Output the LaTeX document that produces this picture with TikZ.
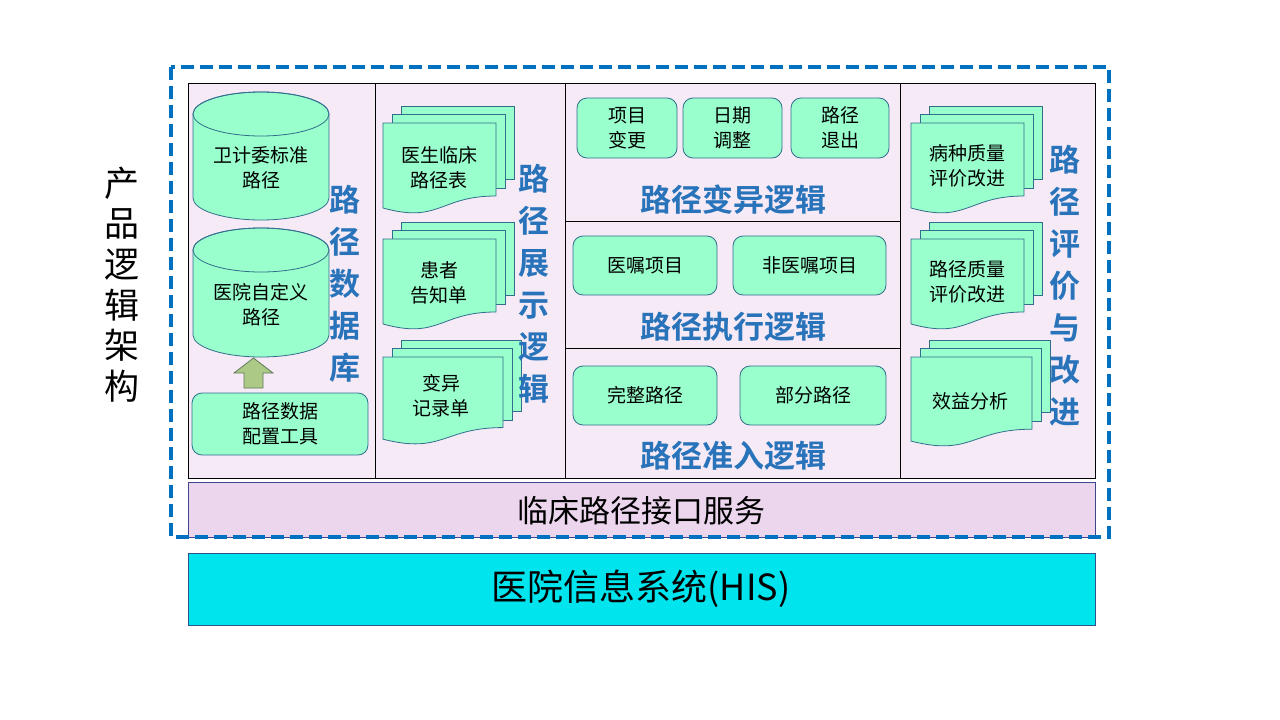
\documentclass[tikz,border=0pt]{standalone}
\usepackage{fontspec}
\setmainfont{Noto Sans CJK SC}[BoldFont={Noto Sans CJK SC Bold}]
\definecolor{bgpink}{RGB}{246,234,247}
\definecolor{mint}{RGB}{153,255,204}
\definecolor{mintedge}{RGB}{50,110,140}
\definecolor{lblue}{RGB}{40,115,185}
\definecolor{dblue}{RGB}{0,112,192}
\definecolor{ifpink}{RGB}{236,214,238}
\definecolor{ifedge}{RGB}{60,70,140}
\definecolor{hiscyan}{RGB}{0,228,238}
\definecolor{hisedge}{RGB}{47,82,143}
\definecolor{arrgreen}{RGB}{172,202,134}
\definecolor{arredge}{RGB}{95,120,90}
% multi-document: #1 left, #2 top, #3 width, #4 height
\newcommand\mdocshape[4]{%
  \filldraw[docpage] ({#1+18},{#2-17}) rectangle ({#1+18+#3},{#2+0.62*#4});
  \filldraw[docpage] ({#1+9},{#2-8.5}) rectangle ({#1+9+#3},{#2+0.72*#4});
  \filldraw[docpage] (#1,#2) -- ({#1+#3},#2) -- ({#1+#3},{#2+0.802*#4})
    .. controls ({#1+0.5*#3},{#2+0.802*#4}) and ({#1+0.5*#3},{#2+1.107*#4}) .. (#1,{#2+0.934*#4}) -- cycle;
}
\newcommand\cylshape[2]{% #1 top ellipse centre y, #2 bottom centre y
  \filldraw[docpage] (193,#1) -- (193,#2) arc[start angle=180,end angle=360,x radius=68pt,y radius=22pt]
    -- (329,#1) arc[start angle=0,end angle=180,x radius=68pt,y radius=22pt] -- cycle;
  \draw[mintedge,line width=0.8pt] (261,#1) ellipse[x radius=68pt,y radius=22pt];
}
\begin{document}
\begin{tikzpicture}[x=1pt,y=-1pt,
  docpage/.style={fill=mint,draw=mintedge,line width=0.8pt},
  rbox/.style={draw=mintedge,fill=mint,line width=0.8pt,rounded corners=10pt,align=center,inner sep=0pt,font=\fontsize{19}{25}\selectfont},
  boxtext/.style={align=center,inner sep=0pt,font=\fontsize{19}{25}\selectfont},
  vlabel/.style={text=lblue,align=center,inner sep=0pt,font=\fontsize{31}{42}\selectfont\bfseries},
  rowlabel/.style={text=lblue,inner sep=0pt,font=\fontsize{31}{36}\selectfont\bfseries},
  frameline/.style={draw=black,line width=0.8pt}]
\useasboundingbox[fill=white] (0,0) rectangle (1280,720);

% left title
\node[align=center,inner sep=0pt,font=\fontsize{35}{40.6}\selectfont] (title) at (122,284.5) {产\\品\\逻\\辑\\架\\构};

% main frame
\filldraw[frameline,fill=bgpink] (188,83) rectangle (1095,478);
\draw[frameline] (375,83) -- (375,478);
\draw[frameline] (565,83) -- (565,478);
\draw[frameline] (900,83) -- (900,478);
\draw[frameline] (565,221) -- (900,221);
\draw[frameline] (565,348) -- (900,348);

% column 1
\cylshape{114}{198}
\cylshape{250}{335}
\node[boxtext] (cyl1) at (261,167.5) {卫计委标准\\路径};
\node[boxtext] (cyl2) at (261,305) {医院自定义\\路径};
\filldraw[fill=arrgreen,draw=arredge,line width=0.8pt] (244,388) -- (244,373) -- (234,373) -- (253.5,358) -- (273,373) -- (263,373) -- (263,388) -- cycle;
\node[rbox,minimum width=176pt,minimum height=62pt] (cfg) at (280,424) {路径数据\\配置工具};
\node[vlabel] (lab1) at (345,283.5) {路\\径\\数\\据\\库};

% column 2
\mdocshape{383}{123}{113}{91}
\mdocshape{383}{239}{113}{91}
\mdocshape{383}{357}{120}{88}
\node[boxtext] (d1) at (439,168) {医生临床\\路径表};
\node[boxtext] (d2) at (439,283) {患者\\告知单};
\node[boxtext] (d3) at (441,396) {变异\\记录单};
\node[vlabel] (lab2) at (534,284) {路\\径\\展\\示\\逻\\辑};

% column 3
\node[rbox,minimum width=100pt,minimum height=60pt] (v1) at (627,128) {项目\\变更};
\node[rbox,minimum width=99pt,minimum height=60pt] (v2) at (732.5,128) {日期\\调整};
\node[rbox,minimum width=98pt,minimum height=60pt] (v3) at (840,128) {路径\\退出};
\node[rowlabel] (r1) at (733,200) {路径变异逻辑};
\node[rbox,minimum width=144pt,minimum height=59pt] (e1) at (645,265.5) {医嘱项目};
\node[rbox,minimum width=153pt,minimum height=59pt] (e2) at (809.5,265.5) {非医嘱项目};
\node[rowlabel] (r2) at (733,327) {路径执行逻辑};
\node[rbox,minimum width=144pt,minimum height=59pt] (a1) at (645,395.5) {完整路径};
\node[rbox,minimum width=146pt,minimum height=59pt] (a2) at (813,395.5) {部分路径};
\node[rowlabel] (r3) at (733,456) {路径准入逻辑};

% column 4
\mdocshape{911}{123}{113}{91}
\mdocshape{911}{239}{113}{91}
\mdocshape{911}{357}{121}{90}
\node[boxtext] (q1) at (967,166) {病种质量\\评价改进};
\node[boxtext] (q2) at (967,282) {路径质量\\评价改进};
\node[boxtext] (q3) at (970,401) {效益分析};
\node[vlabel] (lab4) at (1065,285.5) {路\\径\\评\\价\\与\\改\\进};

% interface bar
\filldraw[fill=ifpink,draw=ifedge,line width=0.8pt] (188,482) rectangle (1095,537);
\node[inner sep=0pt,font=\fontsize{31}{34}\selectfont] (iface) at (641,511) {临床路径接口服务};

% outer dashed frame
\draw[dblue,line width=4pt,dash pattern=on 13pt off 6pt] (171,67) rectangle (1109,537);

% HIS bar
\filldraw[fill=hiscyan,draw=hisedge,line width=0.8pt] (188,553) rectangle (1095,625);
\node[inner sep=0pt,font=\fontsize{36}{40}\selectfont] (his) at (641,589) {医院信息系统(HIS)};
\end{tikzpicture}
\end{document}
